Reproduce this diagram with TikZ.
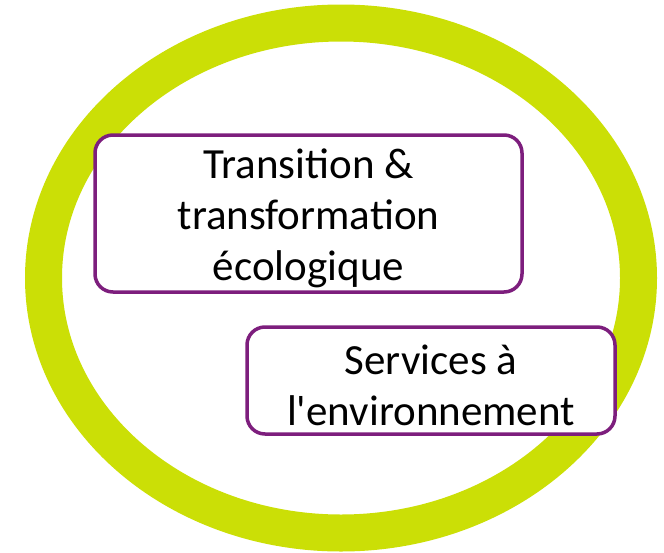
\documentclass[tikz,border=0pt]{standalone}
\usepackage{fontspec}
\setmainfont{Carlito}
\usepackage{tikz}
\usetikzlibrary{positioning}
\definecolor{lime}{RGB}{203,223,6}
\definecolor{prune}{RGB}{125,30,125}
\newcommand\topstrut{\rule{0pt}{39pt}}

\begin{document}
\begin{tikzpicture}[x=1pt,y=-1pt,
  box/.style={draw=prune, line width=3.5pt, fill=white, rounded corners=18pt,
    align=center, inner sep=0pt, font=\fontsize{43}{51}\selectfont}]
\useasboundingbox (0,0) rectangle (664,552);
\draw[lime, line width=37pt](341,278) ellipse (297.5 and 255);
\node[box, minimum width=427pt, minimum height=157pt](trans) at (308.5,213.5){\topstrut Transition \&\\ transformation\\ écologique};
\node[box, minimum width=368pt, minimum height=107pt](serv) at (431,380.5){\topstrut Services à\\ l\textquotesingle environnement};
\end{tikzpicture}
\end{document}
